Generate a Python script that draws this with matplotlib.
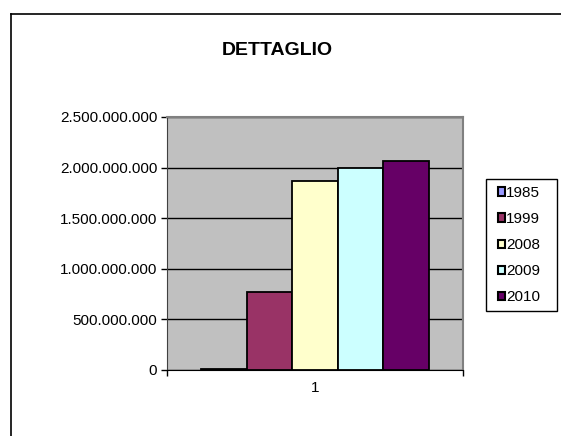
import matplotlib.pyplot as plt
from matplotlib.lines import Line2D
from matplotlib.patches import Rectangle
from matplotlib.ticker import FuncFormatter

plt.rcParams['font.family'] = ['Liberation Sans', 'DejaVu Sans']

# ── Data ─────────────────────────────────────────────────────────────────────
categories = ["1"]
years  = ["1985", "1999", "2008", "2009", "2010"]
values = [12_000_000, 770_000_000, 1_872_000_000, 1_992_000_000, 2_062_000_000]
colors = ["#9999FF", "#993366", "#FFFFCC", "#CCFFFF", "#660066"]

W, H = 561, 436

# ── Plot ─────────────────────────────────────────────────────────────────────
fig = plt.figure(figsize=(W / 100, H / 100), dpi=100)
ax = fig.add_axes([0.2977, 0.1514, 0.5276, 0.5803])
ax.set_facecolor("#C0C0C0")

bar_w = 0.154
handles = []
for i, (yr, v, c) in enumerate(zip(years, values, colors)):
    x = 0 + (i - (len(years) - 1) / 2) * bar_w
    b = ax.bar(x, v, width=bar_w, color=c, edgecolor="black", lw=1.3,
               label=yr, zorder=3)
    handles.append(b)

ax.set_xlim(-0.5, 0.5)
ax.set_ylim(0, 2_500_000_000)
ax.set_yticks(range(0, 2_500_000_001, 500_000_000))
ax.yaxis.set_major_formatter(FuncFormatter(lambda v, _: f"{v:,.0f}".replace(",", ".")))
ax.yaxis.grid(True, color="black", lw=1, zorder=1)
ax.set_axisbelow(True)

ax.set_xticks([-0.5, 0.5])
ax.set_xticklabels([])
ax.tick_params(axis="x", direction="out", length=4, width=1, color="black")
ax.tick_params(axis="y", direction="out", length=4, width=1, color="black",
               labelsize=11, labelcolor="black", pad=3)
ax.text(0, -0.045, categories[0], transform=ax.get_xaxis_transform(),
        ha="center", va="top", fontsize=11)

for side in ("top", "right"):
    ax.spines[side].set_color("#808080")
    ax.spines[side].set_linewidth(1.5)
ax.spines["left"].set_color("#404040")
ax.spines["bottom"].set_color("black")

fig.text(0.494, 0.885, "DETTAGLIO", ha="center", va="center",
         fontsize=14, fontweight="bold")

# legend entries without frame; the box is drawn separately
leg = fig.legend(handles=handles, loc="upper left",
                 bbox_to_anchor=(498 / W, 1 - 186 / H),
                 fontsize=11, frameon=False,
                 handlelength=0.46, handleheight=0.46, handletextpad=0.05,
                 labelspacing=0.79, borderpad=0, borderaxespad=0)
for h in leg.legend_handles:
    h.set_linewidth(1.5)
fig.add_artist(Rectangle((486 / W, 1 - 311 / H), 71 / W, 132 / H,
                         transform=fig.transFigure, fill=False,
                         edgecolor="black", lw=1))

# outer chart-area border (top and left edges)
fig.add_artist(Line2D([11 / W, 1], [1 - 14 / H, 1 - 14 / H],
                      transform=fig.transFigure, color="black", lw=1.2))
fig.add_artist(Line2D([11 / W, 11 / W], [0, 1 - 14 / H],
                      transform=fig.transFigure, color="black", lw=1.2))

fig.savefig("out.png", dpi=100)
